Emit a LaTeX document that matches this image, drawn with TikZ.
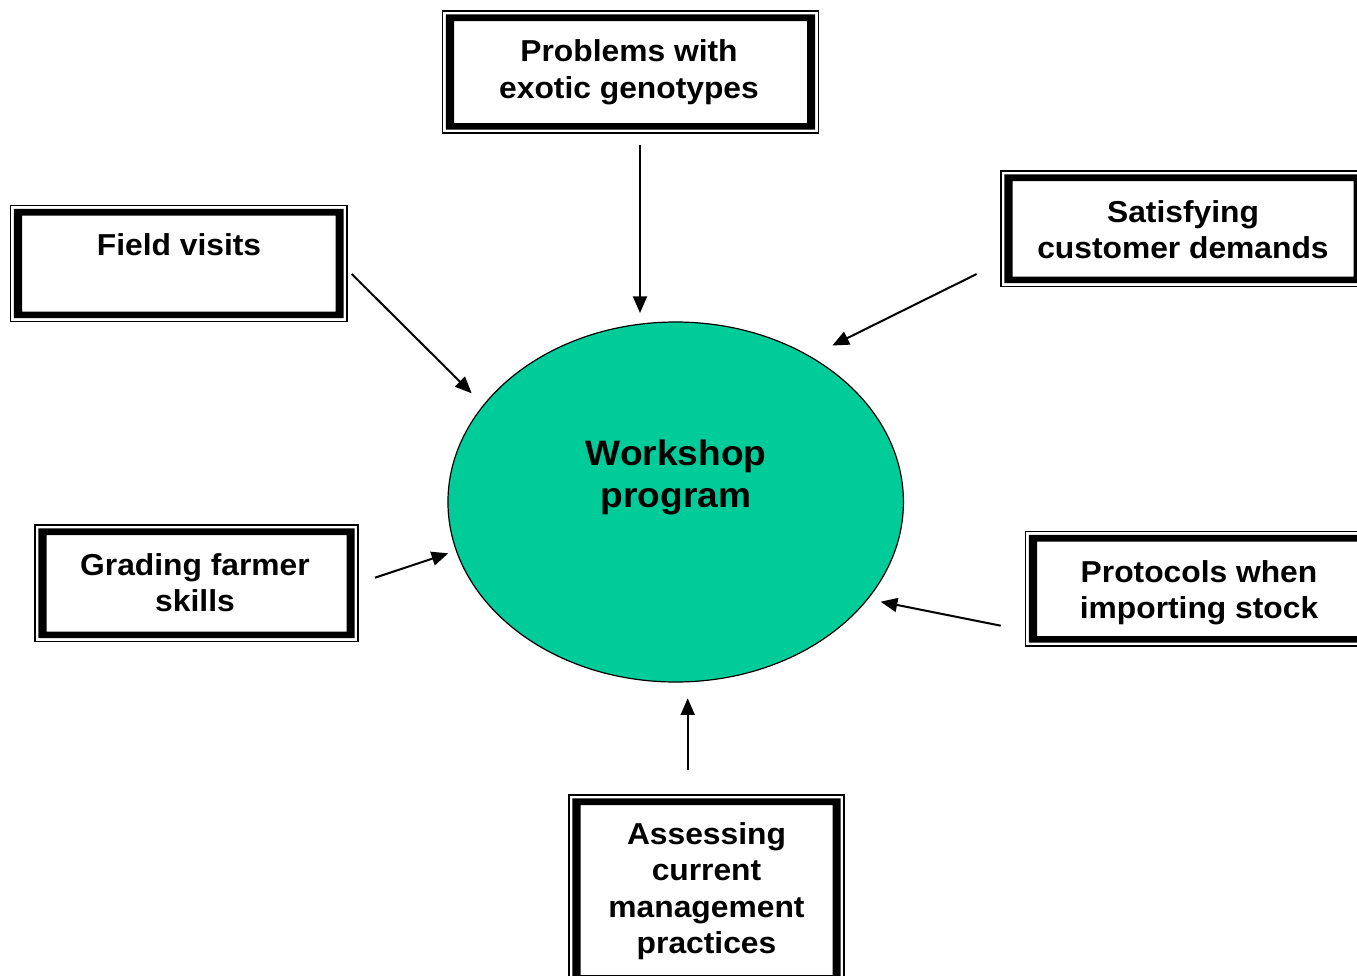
\documentclass[tikz,border=0pt]{standalone}
\usepackage{fontspec}
\setmainfont{Liberation Sans}[FakeStretch=1.05]
\usetikzlibrary{shapes.geometric,arrows.meta}
\definecolor{workshopfill}{RGB}{0,204,153}

\tikzset{
  boxframe/.style={draw, line width=1.1pt, inner sep=0pt, outer sep=0pt},
  boxlabel/.style={align=center, inner sep=0pt, font=\bfseries\fontsize{22.7}{27.4}\selectfont},
  hublabel/.style={align=center, inner sep=0pt, font=\bfseries\fontsize{26.5}{32}\selectfont},
  hub/.style={ellipse, draw, line width=0.9pt, fill=workshopfill, inner sep=0pt},
  conn/.style={line width=1.5pt, -{Triangle[length=12.5pt,width=10.5pt]}}
}

% framed box: thin outer rule plus a heavy inner band
% #1 name, (#2,#3) top-left and (#4,#5) bottom-right of the thin rule
\newcommand\drawframe[5]{%
  \node[boxframe, minimum width={(#4-#2)*0.75pt}, minimum height={(#5-#3)*0.75pt}]
    (#1) at ({(#2+#4)/2},{(#3+#5)/2}) {};
  \fill[even odd rule]
    ([shift={(3.3,3.3)}]#1.north west) rectangle ([shift={(-3.3,-3.3)}]#1.south east)
    ([shift={(11.5,10)}]#1.north west) rectangle ([shift={(-11.5,-10)}]#1.south east);
}

\begin{document}
\begin{tikzpicture}[x=0.75pt, y=-0.75pt]
  \useasboundingbox (0,0) rectangle (1357,975);
  \clip (0,0) rectangle (1357,975);

  % central ellipse
  \node[hub, minimum width=341.6pt, minimum height=270pt] (ws) at (675.7,502) {};
  \node[hublabel] (wstext) at (676,477.5) {Workshop\\program};

  % surrounding boxes
  \drawframe{pb}{442.5}{11}{818.5}{133}
  \node[boxlabel] (pbtext) at (629,72.5) {Problems with\\exotic genotypes};

  \drawframe{fv}{10.5}{205.5}{347}{321.5}
  \node[boxlabel] (fvtext) at (179,245) {Field visits};

  \drawframe{sc}{1001}{171}{1365}{286.5}
  \node[boxlabel] (sctext) at (1183,229.7) {Satisfying\\customer demands};

  \drawframe{gf}{35}{525}{358}{641.5}
  \node[boxlabel] (gftext) at (195,582.5) {Grading farmer\\skills};

  \drawframe{pr}{1025.5}{531.5}{1372.5}{646}
  \node[boxlabel] (prtext) at (1199,592.5) {Protocols when\\importing stock};

  \drawframe{am}{569}{795}{844}{985}
  \node[boxlabel] (amtext) at (706.5,891.3) {Assessing\\current\\management\\practices};

  % arrow ends
  \coordinate (pbout) at (640,145);      \coordinate (pbin) at (640,313);
  \coordinate (fvout) at (351.7,274);    \coordinate (fvin) at (471.7,393.3);
  \coordinate (scout) at (976.7,274);    \coordinate (scin) at (832.3,345.5);
  \coordinate (gfout) at (375,577.7);    \coordinate (gfin) at (448.3,553.3);
  \coordinate (prout) at (1000.7,625.7); \coordinate (prin) at (880.7,601.7);
  \coordinate (amout) at (687.7,770);    \coordinate (amin) at (687.7,698.3);

  % connectors into the workshop
  \draw[conn] (pbout) -- (pbin);
  \draw[conn] (fvout) -- (fvin);
  \draw[conn] (scout) -- (scin);
  \draw[conn] (gfout) -- (gfin);
  \draw[conn] (prout) -- (prin);
  \draw[conn] (amout) -- (amin);
\end{tikzpicture}
\end{document}
